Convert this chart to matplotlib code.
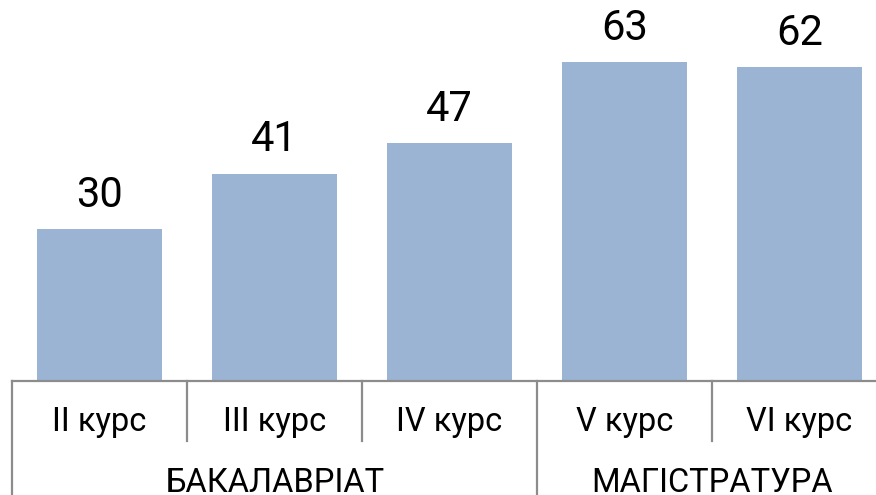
import matplotlib
matplotlib.use("Agg")
import matplotlib.pyplot as plt
from matplotlib.transforms import blended_transform_factory

plt.rcParams['font.family'] = ['Roboto', 'DejaVu Sans']

courses = ["II курс", "III курс", "IV курс", "V курс", "VI курс"]
values = [30, 41, 47, 63, 62]
groups = ["БАКАЛАВРІАТ", "МАГІСТРАТУРА"]
group_sizes = [3, 2]

W, H = 876, 495
fig = plt.figure(figsize=(W / 100, H / 100), dpi=100)
base_px = 381          # baseline, pixels from top
left_px = 12
cat_px = 175
ax = fig.add_axes([left_px / W, (H - base_px) / H, 5 * cat_px / W, base_px / H])

bar_color = "#9BB4D3"
x = list(range(len(values)))
bars = ax.bar(x, values, width=125 / 175, color=bar_color)
ax.set_xlim(-0.5, len(values) - 0.5)
ax.set_ylim(0, base_px / 5.06)
ax.axis("off")

for xi, v in zip(x, values):
    ax.annotate(str(v), (xi, v), xytext=(0, 16), textcoords="offset points",
                ha="center", va="baseline", fontsize=30, color="#000000")

trans = blended_transform_factory(ax.transData, ax.transAxes)
line_kw = dict(color="#8C8C8C", lw=1.6, transform=trans, clip_on=False)

def ay(py):
    # pixel row from top -> axes fraction
    return (base_px - py) / base_px

# baseline
ax.plot([-0.5, len(values) + 0.5], [0, 0], **line_kw)

# vertical separators between course cells and group cells
bounds = [i - 0.5 for i in range(len(values) + 1)]
group_edges = {-0.5}
acc = -0.5
for s in group_sizes:
    acc += s
    group_edges.add(acc)
for b in bounds:
    if b in group_edges:
        ax.plot([b, b], [0, ay(H + 5)], **line_kw)
    else:
        ax.plot([b, b], [0, ay(441)], **line_kw)

# course labels
for xi, name in zip(x, courses):
    ax.text(xi, ay(422), name, transform=trans, ha="center", va="center",
            fontsize=23.5, color="#000000", clip_on=False)

# group labels
start = -0.5
for g, s in zip(groups, group_sizes):
    ax.text(start + s / 2, ay(492), g, transform=trans, ha="center",
            va="baseline", fontsize=23.5, color="#000000", clip_on=False)
    start += s

fig.savefig("out.png", dpi=100)
